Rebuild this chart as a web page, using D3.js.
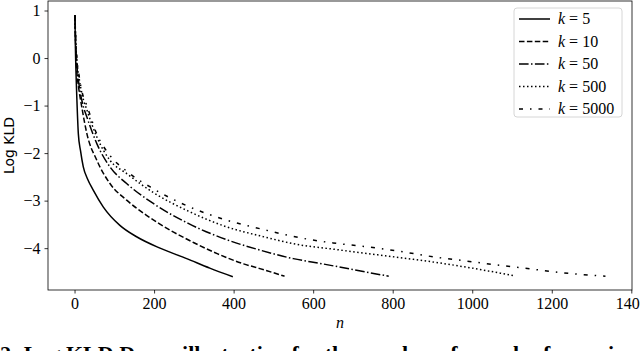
<!DOCTYPE html>
<html><head><meta charset="utf-8">
<script src="https://cdn.jsdelivr.net/npm/d3@7"></script>
<style>
html,body{margin:0;padding:0;background:#fff;overflow:hidden;}
svg{display:block;}
</style></head>
<body>
<svg id="chart" width="640" height="351"></svg>
<script>
// ---- data ----
const seriesNames = ["k = 5", "k = 10", "k = 50", "k = 500", "k = 5000"];
const kValues = ["5", "10", "50", "500", "5000"];

const nK5 = [1, 2, 4, 6, 9.5, 15, 22, 33, 47, 72, 114, 156, 215, 282, 340, 398];
const vK5 = [0.9, 0.3, -0.4, -0.9, -1.59, -1.95, -2.29, -2.55, -2.78, -3.13, -3.52, -3.76, -4.0, -4.22, -4.42, -4.6];

const nK10 = [1, 3, 6, 10, 18, 31, 56, 89, 131, 181, 240, 299, 360, 425, 466, 528];
const vK10 = [0.9, 0.2, -0.3, -0.6, -1.02, -1.59, -2.15, -2.64, -2.99, -3.31, -3.62, -3.88, -4.12, -4.33, -4.43, -4.59];

const nK50 = [1, 3, 6, 12, 20, 31, 56, 89, 131, 198, 286, 382, 466, 550, 617, 700, 790];
const vK50 = [0.9, 0.3, -0.15, -0.6, -0.95, -1.24, -1.8, -2.29, -2.64, -3.06, -3.48, -3.82, -4.04, -4.22, -4.32, -4.45, -4.59];

const nK500 = [1, 3, 6, 12, 20, 31, 56, 89, 131, 198, 286, 382, 466, 566, 650, 734, 820, 901, 1000, 1105];
const vK500 = [0.9, 0.35, -0.05, -0.45, -0.8, -1.09, -1.66, -2.15, -2.43, -2.83, -3.22, -3.55, -3.74, -3.93, -4.02, -4.11, -4.2, -4.29, -4.42, -4.58];

const nK5000 = [1, 3, 6, 12, 20, 31, 56, 89, 131, 198, 286, 382, 466, 566, 650, 734, 820, 901, 985, 1069, 1150, 1230, 1335];
const vK5000 = [0.9, 0.4, 0.0, -0.4, -0.75, -1.0, -1.6, -2.05, -2.38, -2.75, -3.12, -3.41, -3.59, -3.78, -3.89, -3.97, -4.07, -4.18, -4.27, -4.36, -4.44, -4.52, -4.59];

const nSeries = [nK5, nK10, nK50, nK500, nK5000];
const vSeries = [vK5, vK10, vK50, vK500, vK5000];

const xTicks = [0, 200, 400, 600, 800, 1000, 1200, 1400];
const yTicks = [1, 0, -1, -2, -3, -4];
const xLabel = "n";
const yLabel = "Log KLD";
const captionLead = "Figure ";
const captionRest = "2: Log KLD Decay illustration for the number of samples for various values of k";

// ---- styles ----
const dashes = [null, "5.5,2.4", "9.6,2.4,1.5,2.4", "1.5,2.5", "4,7,1.5,7"];

// ---- layout ----
const plot = {left: 48, right: 632, top: 1, bottom: 290};

const nMin = 0, nMax = d3.max(nK5000);
const pad = (nMax - nMin) * 0.05;
const x = d3.scaleLinear().domain([nMin - pad, nMax + pad]).range([plot.left, plot.right]);
const y = d3.scaleLinear().domain([-4.88, 1.2]).range([plot.bottom, plot.top]);

const svg = d3.select("#chart");
const serif = "'Liberation Serif', 'DejaVu Serif', serif";

svg.append("defs").append("clipPath").attr("id", "clip")
  .append("rect").attr("x", plot.left).attr("y", plot.top)
  .attr("width", plot.right - plot.left).attr("height", plot.bottom - plot.top);

// series
const line = d3.line().x(d => x(d[0])).y(d => y(d[1])).curve(d3.curveMonotoneX);
const g = svg.append("g").attr("clip-path", "url(#clip)");
nSeries.forEach((ns, i) => {
  const pts = ns.map((n, j) => [n, vSeries[i][j]]);
  g.append("path").datum(pts)
    .attr("d", line)
    .attr("fill", "none")
    .attr("stroke", "#000")
    .attr("stroke-width", 1.5)
    .attr("stroke-dasharray", dashes[i])
    .attr("stroke-linejoin", "round");
});

// axes
const xAxis = d3.axisBottom(x).tickValues(xTicks).tickSize(3.5).tickPadding(4).tickFormat(d3.format("d"));
const yAxis = d3.axisLeft(y).tickValues(yTicks).tickSize(3.5).tickPadding(4).tickFormat(d => d < 0 ? "\u2212" + Math.abs(d) : String(d));

const gx = svg.append("g").attr("transform", `translate(0,${plot.bottom})`).call(xAxis);
const gy = svg.append("g").attr("transform", `translate(${plot.left},0)`).call(yAxis);
[gx, gy].forEach(a => {
  a.select(".domain").remove();
  a.selectAll(".tick line").attr("stroke", "#000").attr("stroke-width", 0.8);
  a.selectAll(".tick text").attr("font-family", serif).attr("font-size", 16).attr("fill", "#000");
});

// frame
svg.append("rect").attr("x", plot.left).attr("y", plot.top)
  .attr("width", plot.right - plot.left).attr("height", plot.bottom - plot.top)
  .attr("fill", "none").attr("stroke", "#000").attr("stroke-width", 0.8);

// labels
svg.append("text").attr("x", (plot.left + plot.right) / 2).attr("y", 328)
  .attr("text-anchor", "middle").attr("font-family", serif).attr("font-style", "italic")
  .attr("font-size", 16).text(xLabel);

svg.append("text").attr("transform", `translate(14,${(plot.top + plot.bottom) / 2}) rotate(-90)`)
  .attr("text-anchor", "middle").attr("font-family", "'DejaVu Sans', sans-serif")
  .attr("font-size", 14).text(yLabel);

// legend
const lg = svg.append("g");
lg.append("rect").attr("x", 514).attr("y", 8).attr("width", 108).attr("height", 109)
  .attr("rx", 3).attr("fill", "#fff").attr("fill-opacity", 0.8)
  .attr("stroke", "#cccccc").attr("stroke-width", 0.8);
seriesNames.forEach((name, i) => {
  const yy = 19 + i * 22.5;
  lg.append("line").attr("x1", 519).attr("x2", 550).attr("y1", yy).attr("y2", yy)
    .attr("stroke", "#000").attr("stroke-width", 1.5).attr("stroke-dasharray", dashes[i]);
  const t = lg.append("text").attr("x", 558).attr("y", yy + 5)
    .attr("font-family", serif).attr("font-size", 16);
  t.append("tspan").attr("font-style", "italic").text("k");
  t.append("tspan").text(" = " + kValues[i]);
});

// caption (cropped at the bottom edge, as in the reference)
const cap = svg.append("text").attr("y", 361)
  .attr("font-family", serif).attr("font-size", 22).attr("font-weight", "bold");
cap.append("tspan").text(captionLead);
cap.append("tspan").text(captionRest);
const leadW = cap.node().getSubStringLength(0, captionLead.length);
cap.attr("x", -leadW);
</script>
</body></html>
